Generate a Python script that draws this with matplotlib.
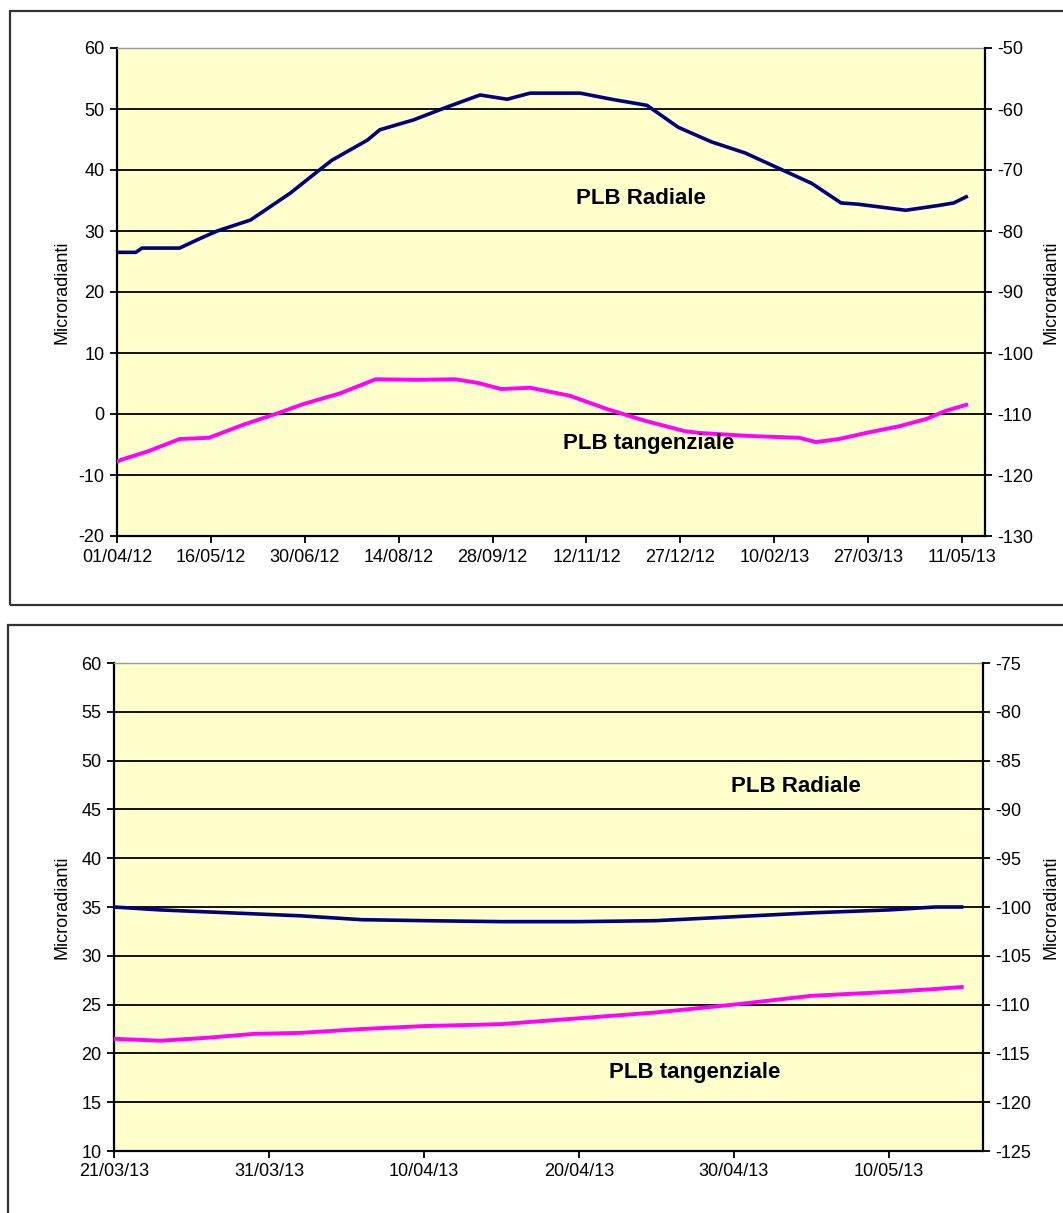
import numpy as np
import pandas as pd
import matplotlib
matplotlib.use("Agg")
import matplotlib.pyplot as plt
import matplotlib.dates as mdates
from matplotlib.patches import Rectangle

plt.rcParams['font.family'] = ['Liberation Sans', 'DejaVu Sans']
plt.rcParams['axes.unicode_minus'] = False

# ---- top chart: 01/04/12 -> 15/05/13 ----
rad1_dates = ['2012-04-01', '2012-04-10', '2012-04-13', '2012-05-01', '2012-05-11',
              '2012-05-19', '2012-06-04', '2012-06-23', '2012-07-07', '2012-07-13',
              '2012-07-30', '2012-08-05', '2012-08-21', '2012-09-06', '2012-09-22',
              '2012-10-05', '2012-10-16', '2012-11-09', '2012-11-24', '2012-12-11',
              '2012-12-26', '2013-01-11', '2013-01-27', '2013-02-12', '2013-02-28',
              '2013-03-14', '2013-03-22', '2013-04-14', '2013-04-30', '2013-05-07',
              '2013-05-13']
rad1 = [26.5, 26.5, 27.2, 27.2, 28.8, 30.0, 31.8, 36.2, 40.0, 41.6, 44.9, 46.6,
        48.2, 50.3, 52.3, 51.6, 52.6, 52.6, 51.6, 50.6, 47.0, 44.6, 42.8, 40.3,
        37.8, 34.6, 34.4, 33.4, 34.2, 34.6, 35.6]

tan1_dates = ['2012-04-01', '2012-04-03', '2012-04-16', '2012-05-01', '2012-05-15',
              '2012-06-01', '2012-06-16', '2012-06-29', '2012-07-17', '2012-08-03',
              '2012-08-23', '2012-09-10', '2012-09-21', '2012-10-02', '2012-10-16',
              '2012-11-04', '2012-11-22', '2012-12-10', '2012-12-29', '2013-01-05',
              '2013-01-29', '2013-02-22', '2013-03-02', '2013-03-13', '2013-03-26',
              '2013-04-11', '2013-04-24', '2013-05-03', '2013-05-13']
tan1 = [-7.8, -7.5, -6.1, -4.1, -3.9, -1.7, 0.0, 1.6, 3.4, 5.7, 5.6, 5.7, 5.1,
        4.1, 4.3, 3.0, 0.8, -1.1, -2.8, -3.1, -3.6, -3.9, -4.6, -4.1, -3.1,
        -2.0, -0.8, 0.5, 1.5]

# ---- bottom chart: 21/03/13 -> 15/05/13 ----
dates2 = ['2013-03-21 00:00', '2013-03-24 00:00', '2013-03-27 00:00', '2013-03-30 00:00',
          '2013-04-02 00:00', '2013-04-06 00:00', '2013-04-10 00:00', '2013-04-15 00:00',
          '2013-04-20 00:00', '2013-04-25 00:00', '2013-04-30 00:00', '2013-05-05 00:00',
          '2013-05-10 00:00', '2013-05-13 00:00', '2013-05-14 17:00']
rad2 = [35.0, 34.7, 34.5, 34.3, 34.1, 33.7, 33.6, 33.5, 33.5, 33.6, 34.0, 34.4,
        34.7, 35.0, 35.0]
tan2 = [21.5, 21.3, 21.6, 22.0, 22.1, 22.5, 22.8, 23.0, 23.6, 24.2, 25.0, 25.9,
        26.3, 26.6, 26.8]

W, H = 1063, 1213
fig = plt.figure(figsize=(W / 100, H / 100), dpi=100)
fig.patch.set_facecolor('white')

# chart area frames (they run off the right / bottom edge)
fig.add_artist(Rectangle((10 / W, 1 - 605 / H), 1.2, (605 - 11) / H,
                         transform=fig.transFigure, fill=False, lw=1.6, ec='#333333'))
fig.add_artist(Rectangle((8 / W, -0.2), 1.2, 0.2 + (1213 - 625) / H,
                         transform=fig.transFigure, fill=False, lw=1.6, ec='#333333'))

NAVY = '#000080'
MAG = '#FF00FF'
BG = '#FFFFCC'
FS = 13


def make_panel(rect, ylim, yticks, right_off, xlim, xticks):
    ax = fig.add_axes(rect)
    ax.set_facecolor(BG)
    ax.set_ylim(*ylim)
    ax.set_yticks(yticks)
    ax.yaxis.grid(True, color='black', lw=1.3)
    ax.set_axisbelow(True)
    ax.set_xlim(pd.Timestamp(xlim[0]), pd.Timestamp(xlim[1]))
    ax.set_xticks(xticks)
    ax.xaxis.set_major_formatter(mdates.DateFormatter('%d/%m/%y'))
    for s in ['left', 'bottom']:
        ax.spines[s].set_linewidth(1.6)
    ax.spines['right'].set_visible(False)
    ax.spines['top'].set_color('#999999')
    ax.spines['top'].set_linewidth(1.0)
    ax.tick_params(axis='both', direction='out', length=5, width=1.3,
                   labelsize=FS, pad=4)
    ax2 = ax.twinx()
    ax2.set_ylim(ylim[0] + right_off, ylim[1] + right_off)
    ax2.set_yticks([t + right_off for t in yticks])
    ax2.spines['right'].set_linewidth(1.6)
    for s in ['left', 'bottom', 'top']:
        ax2.spines[s].set_visible(False)
    ax2.tick_params(axis='y', direction='out', length=5, width=1.3,
                    labelsize=FS, pad=4)
    return ax


def ylabels(rect):
    yc = rect[1] + rect[3] / 2
    fig.text(62 / W, yc, 'Microradianti', rotation=90, ha='center', va='center',
             fontsize=FS)
    fig.text(1051 / W, yc, 'Microradianti', rotation=90, ha='center', va='center',
             fontsize=FS)


# top panel
r1 = [117 / W, 1 - 536 / H, (985 - 117) / W, (536 - 48) / H]
ax1 = make_panel(r1, (-20, 60), list(range(-20, 61, 10)), -110,
                 ('2012-04-01', '2013-05-22'),
                 pd.date_range('2012-04-01', periods=10, freq='45D'))
ax1.plot(pd.to_datetime(rad1_dates), rad1, color=NAVY, lw=2.6, zorder=3)
ax1.plot(pd.to_datetime(tan1_dates), tan1, color=MAG, lw=2.8, zorder=3)
ax1.text(pd.Timestamp('2012-12-08'), 35.4, 'PLB Radiale', fontsize=16,
         fontweight='bold', ha='center', va='center', zorder=4)
ax1.text(pd.Timestamp('2012-12-12'), -4.9, 'PLB tangenziale', fontsize=16,
         fontweight='bold', ha='center', va='center', zorder=4)
ylabels(r1)

# bottom panel
r2 = [114 / W, 1 - 1151 / H, (983 - 114) / W, (1151 - 663) / H]
ax2 = make_panel(r2, (10, 60), list(range(10, 61, 5)), -135,
                 ('2013-03-21', '2013-05-16 02:00'),
                 pd.date_range('2013-03-21', periods=6, freq='10D'))
ax2.plot(pd.to_datetime(dates2), rad2, color=NAVY, lw=2.6, zorder=3)
ax2.plot(pd.to_datetime(dates2), tan2, color=MAG, lw=2.8, zorder=3)
ax2.text(pd.Timestamp('2013-05-04'), 47.3, 'PLB Radiale', fontsize=16,
         fontweight='bold', ha='center', va='center', zorder=4)
ax2.text(pd.Timestamp('2013-04-27 12:00'), 18.05, 'PLB tangenziale', fontsize=16,
         fontweight='bold', ha='center', va='center', zorder=4)
ylabels(r2)

fig.savefig('out.png', dpi=100)
